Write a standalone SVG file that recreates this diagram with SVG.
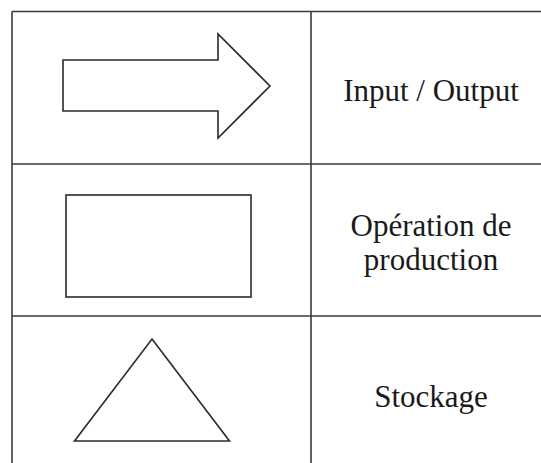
<svg xmlns="http://www.w3.org/2000/svg" width="541" height="463" viewBox="0 0 541 463">
  <style>
    .grid { stroke: #3a3a3a; stroke-width: 1.6; fill: none; }
    .shape { stroke: #2a2a2a; stroke-width: 1.6; fill: #ffffff; stroke-linejoin: miter; }
    .label { font-family: "Liberation Serif", "Times New Roman", serif; font-size: 31px; fill: #1a1a1a; text-anchor: middle; }
  </style>
  <rect width="541" height="463" fill="#ffffff"/>

  <!-- legend table grid -->
  <g id="table" class="grid">
    <line x1="12" y1="11.5" x2="541" y2="11.5"/>
    <line x1="12" y1="164" x2="541" y2="164"/>
    <line x1="12" y1="316" x2="541" y2="316"/>
    <line x1="12" y1="11.5" x2="12" y2="463"/>
    <line x1="311" y1="11.5" x2="311" y2="463"/>
  </g>

  <!-- row 1: input / output symbol -->
  <g id="row-io">
    <polygon class="shape" points="63,60 218,60 218,34 270,86 218,138 218,111 63,111"/>
    <text class="label" x="431" y="101">Input / Output</text>
  </g>

  <!-- row 2: production operation symbol -->
  <g id="row-operation">
    <rect class="shape" x="66" y="195" width="185" height="102"/>
    <text class="label" x="431" y="236">Opération de</text>
    <text class="label" x="431" y="270">production</text>
  </g>

  <!-- row 3: storage symbol -->
  <g id="row-storage">
    <polygon class="shape" points="152,339 229.5,441 74.5,441"/>
    <text class="label" x="431" y="407">Stockage</text>
  </g>
</svg>
